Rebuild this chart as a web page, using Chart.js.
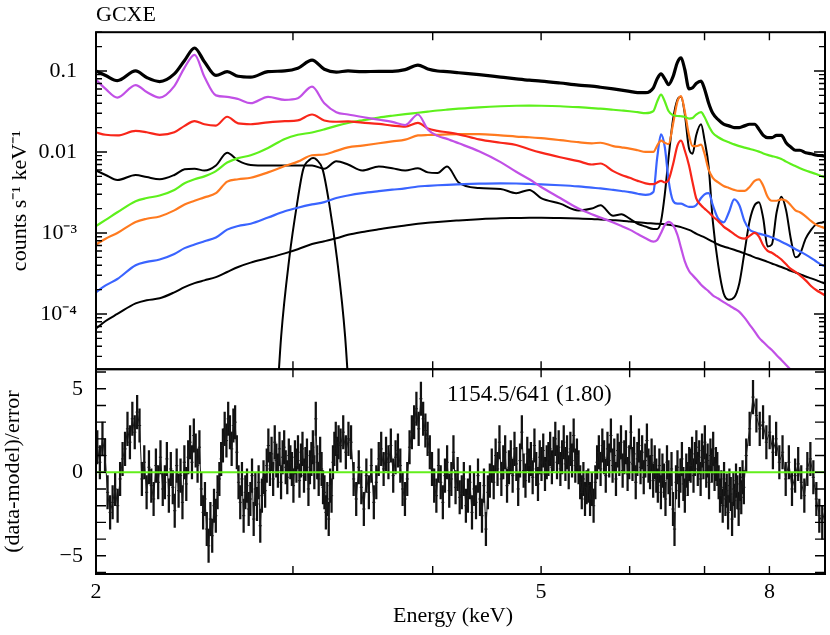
<!DOCTYPE html>
<html>
<head>
<meta charset="utf-8">
<script src="https://cdn.jsdelivr.net/npm/chart.js@4.4.1/dist/chart.umd.min.js"></script>
<style>
html,body{margin:0;padding:0;background:#fff;}
#wrap{width:830px;height:635px;position:relative;}
</style>
</head>
<body>
<div id="wrap"><canvas id="c" width="830" height="635"></canvas></div>
<script>
// ---------------- DATA ----------------
const panelTitle = 'GCXE';
const fitStatText = '1154.5/641 (1.80)';
const xTitle = 'Energy (keV)';
const yTitleTop = 'counts s\u207B\u00B9 keV\u207B\u00B9';
const yTitleRes = '(data-model)/error';

const xLabelValues = [2, 5, 8];
const xTickValues = [3, 4, 5, 6, 7, 8];
const yTickValues = [1e-4, 1e-3, 1e-2, 1e-1];
const yTickLabels = ['10\u207B\u2074', '10\u207B\u00B3', '0.01', '0.1'];
const resTickValues = [-5, 0, 5];
const resTickLabels = ['\u22125', '0', '5'];

// model energy grid (keV)
const modelE = [2.00,2.04,2.09,2.17,2.22,2.28,2.35,2.40,2.45,2.50,
 2.56,2.62,2.68,2.75,2.85,2.95,3.03,3.12,3.20,3.28,
 3.36,3.46,3.58,3.68,3.78,3.88,3.96,4.04,4.12,4.22,
 4.40,4.60,4.75,4.88,5.00,5.20,5.40,5.55,5.65,5.80,
 5.90,6.00,6.10,6.20,6.30,6.35,6.40,6.45,6.50,6.56,
 6.62,6.67,6.72,6.78,6.83,6.88,6.95,7.00,7.06,7.12,
 7.20,7.28,7.36,7.44,7.52,7.60,7.68,7.76,7.83,7.90,
 7.97,8.04,8.12,8.20,8.28,8.36,8.44,8.52,8.62,8.72,
 8.82,8.92,9.00];

const dataCounts = [0.100,0.088,0.076,0.100,0.083,0.074,0.092,0.135,0.192,0.130,
 0.088,0.098,0.086,0.084,0.098,0.100,0.108,0.136,0.105,0.097,
 0.100,0.098,0.099,0.099,0.104,0.118,0.106,0.100,0.098,0.095,
 0.090,0.084,0.080,0.077,0.075,0.071,0.067,0.065,0.063,0.060,
 0.058,0.056,0.054,0.054,0.062,0.080,0.092,0.080,0.068,0.085,
 0.128,0.145,0.105,0.060,0.062,0.070,0.075,0.060,0.040,0.030,
 0.025,0.022,0.021,0.020,0.020,0.021,0.022,0.022,0.019,0.016,
 0.015,0.015,0.016,0.016,0.013,0.0115,0.0105,0.0105,0.0098,0.0095,
 0.0091,0.0090,0.0088];

const lowTempModel = [0.078,0.060,0.047,0.067,0.055,0.047,0.065,0.110,0.158,0.085,
 0.050,0.048,0.045,0.040,0.048,0.044,0.046,0.064,0.040,0.031,
 0.029,0.027,0.025,0.0235,0.0215,0.029,0.019,0.0158,0.0145,0.0128,
 0.0102,0.0075,0.0057,0.0046,0.0037,0.0027,0.0020,0.0017,0.00155,0.00135,
 0.00122,0.00110,0.00097,0.00086,0.00078,0.00082,0.00100,0.00125,0.00137,0.00125,
 0.00095,0.00065,0.00045,0.00034,0.00030,0.00027,0.00023,0.00021,0.00019,0.00017,
 0.000155,0.000140,0.000128,0.000117,0.000106,0.000090,0.000074,0.000061,0.000051,0.000045,
 0.000040,0.000036,0.000031,0.000027,0.0000235,0.0000205,0.000018,0.000016,0.000014,0.0000122,
 0.0000108,0.0000095,0.0000085];

const redModel = [0.0174,0.0163,0.0160,0.0182,0.0175,0.0163,0.0175,0.0210,0.0240,0.0220,
 0.0212,0.0272,0.0225,0.0220,0.0232,0.0240,0.0245,0.0290,0.0245,0.0236,
 0.0238,0.0230,0.0222,0.0212,0.0206,0.0228,0.0195,0.0182,0.0175,0.0165,
 0.0143,0.0130,0.0122,0.0108,0.0098,0.0086,0.0077,0.0070,0.0072,0.0058,
 0.0052,0.0048,0.0044,0.0041,0.0040,0.0042,0.0044,0.0042,0.0045,0.0070,
 0.0120,0.0138,0.0105,0.0068,0.0042,0.0027,0.0022,0.0020,0.0018,0.0016,
 0.0014,0.0012,0.00108,0.00097,0.00088,0.00085,0.00092,0.00100,0.00090,0.00070,
 0.00060,0.00057,0.00052,0.00047,0.00041,0.00036,0.00033,0.00030,0.00026,0.00022,
 0.000195,0.000178,0.000165];

const greenModel = [0.00122,0.00145,0.00180,0.00247,0.00270,0.00290,0.00340,0.00410,0.00460,0.00500,
 0.00580,0.00740,0.00840,0.00910,0.01120,0.01450,0.01630,0.01740,0.01900,0.02100,
 0.02280,0.02460,0.02660,0.02800,0.02930,0.03050,0.03150,0.03250,0.03330,0.03420,
 0.03560,0.03670,0.03720,0.03730,0.03720,0.03670,0.03570,0.03480,0.03430,0.03320,
 0.03250,0.03180,0.03100,0.03020,0.03200,0.04200,0.05100,0.04200,0.03200,0.02850,
 0.02780,0.02760,0.02720,0.02580,0.02620,0.02900,0.03100,0.02700,0.02100,0.01720,
 0.01520,0.01400,0.01320,0.01240,0.01180,0.01130,0.01090,0.01050,0.01010,0.00960,
 0.00920,0.00890,0.00860,0.00820,0.00760,0.00710,0.00670,0.00630,0.00590,0.00560,
 0.00530,0.00500,0.00480];

const orangeModel = [0.00072,0.00085,0.00100,0.00137,0.00150,0.00160,0.00190,0.00225,0.00250,0.00275,
 0.00310,0.00430,0.00460,0.00480,0.00560,0.00670,0.00760,0.00910,0.00930,0.01030,
 0.01140,0.01200,0.01280,0.01350,0.01420,0.01600,0.01620,0.01630,0.01650,0.01660,
 0.01660,0.01600,0.01550,0.01520,0.01480,0.01400,0.01320,0.01280,0.01300,0.01180,
 0.01140,0.01100,0.01050,0.01000,0.01000,0.01200,0.01380,0.01300,0.01250,0.02200,
 0.04200,0.04900,0.03200,0.01600,0.01180,0.01180,0.01230,0.00950,0.00600,0.00480,
 0.00420,0.00380,0.00360,0.00340,0.00330,0.00330,0.00370,0.00440,0.00460,0.00380,
 0.00280,0.00250,0.00250,0.00260,0.00250,0.00220,0.00190,0.00180,0.00160,0.00140,
 0.00125,0.00118,0.00112];

const blueModel = [0.000185,0.000225,0.000270,0.000400,0.000440,0.000470,0.000550,0.000650,0.000720,0.000790,
 0.000880,0.001100,0.001220,0.001300,0.001550,0.001850,0.002050,0.002250,0.002400,0.002700,
 0.002900,0.003100,0.003280,0.003420,0.003550,0.003750,0.003820,0.003880,0.003930,0.003980,
 0.004060,0.004100,0.004080,0.004030,0.003980,0.003880,0.003750,0.003620,0.003550,0.003400,
 0.003300,0.003200,0.003050,0.002950,0.003200,0.008500,0.016500,0.011500,0.004500,0.002500,
 0.002300,0.002300,0.002200,0.002100,0.002100,0.002200,0.002700,0.003000,0.003100,0.002200,
 0.001500,0.001350,0.001800,0.002600,0.002200,0.001400,0.001100,0.001020,0.000980,0.000950,
 0.000920,0.000880,0.000830,0.000780,0.000730,0.000680,0.000630,0.000590,0.000540,0.000490,
 0.000440,0.000400,0.000380];

const lineModel = [0.0059,0.0052,0.0045,0.0052,0.0049,0.0046,0.0052,0.0061,0.0062,0.0059,
 0.0068,0.0098,0.0078,0.0069,0.0068,0.0068,0.0068,0.0068,0.0062,0.0077,
 0.0070,0.0059,0.0066,0.0063,0.0059,0.0063,0.0056,0.0055,0.0066,0.0042,
 0.0036,0.0035,0.0031,0.0034,0.0027,0.0023,0.0019,0.0020,0.0022,0.00163,
 0.00170,0.00150,0.00130,0.00120,0.00112,0.00112,0.00140,0.0030,0.0085,0.0250,
 0.0440,0.0480,0.0300,0.0110,0.0095,0.0160,0.0220,0.0140,0.0065,0.0014,
 0.00040,0.00018,0.00015,0.00016,0.00024,0.00058,0.00140,0.00220,0.00240,0.00150,
 0.00068,0.00072,0.00180,0.00280,0.00190,0.00085,0.00050,0.00055,0.00085,0.00110,
 0.00130,0.00135,0.00140];

const contModel = [6.6e-5,8.2e-5,1.0e-4,1.35e-4,1.48e-4,1.56e-4,1.85e-4,2.15e-4,2.4e-4,2.6e-4,
 2.85e-4,3.3e-4,3.8e-4,4.3e-4,4.9e-4,5.6e-4,6.3e-4,7.3e-4,7.9e-4,8.6e-4,
 9.5e-4,1.03e-3,1.11e-3,1.18e-3,1.24e-3,1.30e-3,1.34e-3,1.37e-3,1.40e-3,1.43e-3,
 1.48e-3,1.52e-3,1.53e-3,1.54e-3,1.54e-3,1.53e-3,1.51e-3,1.49e-3,1.47e-3,1.44e-3,
 1.42e-3,1.39e-3,1.36e-3,1.33e-3,1.31e-3,1.30e-3,1.29e-3,1.28e-3,1.26e-3,1.24e-3,
 1.21e-3,1.18e-3,1.14e-3,1.09e-3,1.04e-3,9.8e-4,9.2e-4,8.8e-4,8.3e-4,7.8e-4,
 7.2e-4,6.8e-4,6.5e-4,6.2e-4,5.9e-4,5.6e-4,5.3e-4,5.0e-4,4.8e-4,4.6e-4,
 4.4e-4,4.2e-4,4.0e-4,3.8e-4,3.6e-4,3.4e-4,3.25e-4,3.1e-4,2.9e-4,2.75e-4,
 2.6e-4,2.45e-4,2.35e-4];

// narrow gaussian line near 3.12 keV
const gaussE = [2.894,2.928,2.977,3.026,3.064,3.105,3.127,3.150,3.189,3.232,3.285,3.340,3.380];
const gaussV = [4.0e-6,5.3e-5,4.8e-4,2.33e-3,6.1e-3,8.0e-3,8.4e-3,8.0e-3,6.1e-3,2.33e-3,4.8e-4,5.3e-5,4.0e-6];

// residuals: bin ranges (keV) and residual values, bins evenly spread in each range
const resRanges = [[2.00,2.30],[2.30,3.30],[3.30,5.50],[5.50,7.60],[7.60,9.00]];
const res1 = [1.5,0.6,2.0,1.0,-1.2,-2.4,-1.8,-1.0,-2.0,-0.4,0.8,1.4,2.6,1.8,3.2,2.4,3.6,2.8,-0.4,0.6,-1.2,0.3,-0.8,-1.6,0.4,-0.6,0.9,-1.0];
const res2 = [-0.6,0.8,-1.4,0.2,-0.9,-2.3,0.4,-1.1,-0.2,-1.8,0.6,-0.7,
 0.9,1.8,0.6,2.2,1.3,0.4,1.5,
 -1.0,-2.4,-1.6,-3.4,-4.4,-2.8,-3.8,-2.0,-2.6,-1.2,-0.4,
 0.8,1.6,2.6,1.9,3.2,2.4,1.4,2.8,3.0,1.2,
 -0.6,-1.8,-0.4,-2.6,-1.2,-0.8,-2.2,-1.6,-0.2,-2.8,-1.0,-1.9,-0.6,-3.2,-1.4,-0.3,-1.1,
 0.4,1.6,0.2,1.1,-0.4,1.8,0.7,0.1,1.4,-0.6,0.9,1.5,0.3,-0.3,1.0,0.6,
 0.2,-0.8,0.9,0.4,1.2,-0.5,0.7,1.4,-0.2,0.5,1.0,-1.0,0.3,0.8,1.5,0.0,3.2,0.6,-0.4,1.1,0.2,-0.9,
 -1.2,-2.4,-1.6,-2.8,-0.8,-1.4,
 0.6,1.4,2.0,1.1,1.8];
const res3 = [1.6,2.4,1.2,2.0,1.8,
 -0.4,-1.6,0.3,-0.9,-2.2,-0.2,-1.2,0.4,-1.8,-0.6,
 0.8,1.4,0.2,1.1,0.6,1.6,-0.2,0.9,1.3,0.4,
 -1.0,-1.6,-0.4,
 1.5,2.4,3.0,3.8,2.6,4.4,3.2,2.5,2.0,1.2,
 0.2,-0.8,-1.4,0.4,-0.6,-1.8,-0.2,0.6,-1.1,-0.4,1.2,-0.9,-0.1,-1.5,
 -1.2,-0.4,-2.0,-1.4,-0.6,-2.4,-1.0,-1.8,-0.2,-1.6,-2.6,-0.8,-3.4,-1.2,-0.5,
 0.4,-0.6,1.0,0.2,1.8,-0.4,0.6,1.2,-0.8,0.3,0.9,-0.2,1.4,0.5,-1.0,0.7,2.4,0.1,-0.5,1.1,0.4,0.8,-0.3,1.6,0.2,-0.7,0.9,0.5,1.3,-0.1,0.6,
 0.8,1.4,0.3,1.1,2.0,0.6,1.5,0.2,0.9,1.8,0.5,1.2,0.0,1.4,0.7,2.2,0.4,1.0,0.3,-0.6,-1.2,-0.4,-1.6,-0.9];
const res4 = [-0.8,-1.6,-1.0,-2.0,-0.6,
 0.6,1.2,0.2,1.6,0.9,-0.2,1.4,0.7,2.2,0.4,1.0,-0.4,1.3,0.8,1.8,0.1,0.9,1.5,-0.1,0.6,2.4,0.5,1.1,-0.6,0.8,1.6,0.3,1.2,-0.3,0.7,1.9,0.4,0.0,1.0,-0.5,0.6,
 -0.2,-0.8,0.4,-1.2,0.1,-0.5,-1.6,0.6,-0.3,-1.0,0.2,-2.2,-3.4,-0.6,0.3,-1.1,-0.2,0.8,-0.7,-1.4,0.1,-0.4,0.5,
 0.4,1.1,-0.2,0.8,1.5,0.2,0.9,-0.4,1.3,0.6,1.8,0.1,0.7,-0.6,1.0,0.4,1.4,-0.1,0.5,0.2,
 -0.6,-1.4,-0.9,-2.0,-0.4,-1.6,-1.1,-2.4,-0.8,-1.3,-2.8,-1.0,-1.7,-0.5,-1.2,-2.2,-0.7,-1.5,-0.3,-0.9];
const res5 = [1.0,2.6,4.5,3.4,2.6,3.0,1.8,2.4,1.2,2.0,0.6,1.2,-0.4,0.6,-1.0,-0.2,0.5,-0.6,-1.4,0.2,0.8,-0.3,-1.6,-2.6,-3.0,-2.2];
const resValues = [res1, res2, res3, res4, res5];

// ---------------- STYLE ----------------
const FONT = "'Liberation Serif', 'Times New Roman', Times, serif";
Chart.defaults.font.family = FONT;
Chart.defaults.font.size = 22;
Chart.defaults.color = '#000';

const C = {
  data: '#000000', magenta: '#c150e6', red: '#f8261a', green: '#5ef01c',
  orange: '#ff7a1f', blue: '#3a64ff', black: '#000000', zero: '#62ef1b'
};

function lineDS(label, xs, ys, color, width) {
  const n = Math.min(xs.length, ys.length);
  const pts = [];
  for (let i = 0; i < n; i++) pts.push({x: xs[i], y: ys[i]});
  return {type: 'line', label, data: pts, borderColor: color, backgroundColor: color,
    borderWidth: width, pointRadius: 0, fill: false, cubicInterpolationMode: 'monotone', yAxisID: 'y'};
}

const resPts = [];
resRanges.forEach((r, s) => {
  const vals = resValues[s];
  const w = (r[1] - r[0]) / vals.length;
  vals.forEach((v, i) => resPts.push({x: r[0] + (i + 0.5) * w, y: v}));
});

const datasets = [
  {type: 'line', label: 'zero', data: [{x: 2, y: 0}, {x: 9, y: 0}], borderColor: C.zero,
   borderWidth: 2.2, pointRadius: 0, yAxisID: 'yr'},
  {type: 'line', label: 'residual', data: resPts, showLine: true, pointStyle: 'line',
   pointRadius: 1.6, borderColor: '#1a1a1a', borderWidth: 1, tension: 0, yAxisID: 'yr'},
  {type: 'bar', label: 'error', data: resPts.map(p => ({x: p.x, y: [p.y - 1, p.y + 1]})),
   backgroundColor: '#111', borderWidth: 0, barThickness: 1.6, yAxisID: 'yr'},
  lineDS('data', modelE, dataCounts, C.data, 3.2),
  lineDS('low-kT', modelE, lowTempModel, C.magenta, 2.2),
  lineDS('mid-kT', modelE, redModel, C.red, 2.2),
  lineDS('high-kT', modelE, greenModel, C.green, 2.2),
  lineDS('orange', modelE, orangeModel, C.orange, 2.2),
  lineDS('blue', modelE, blueModel, C.blue, 2.2),
  lineDS('lines', modelE, lineModel, C.black, 2),
  lineDS('continuum', modelE, contModel, C.black, 2),
  lineDS('gauss', gaussE, gaussV, C.black, 2)
];

const framePlugin = {
  id: 'framePlugin',
  beforeDatasetDraw(chart, args) {
    const ys = chart.scales[args.meta.yAxisID];
    const a = chart.chartArea;
    const ctx = chart.ctx;
    ctx.save();
    ctx.beginPath();
    ctx.rect(a.left, ys.top, a.right - a.left, ys.bottom - ys.top);
    ctx.clip();
  },
  afterDatasetDraw(chart) { chart.ctx.restore(); },
  afterDraw(chart) {
    const ctx = chart.ctx, a = chart.chartArea;
    const x = chart.scales.x, y = chart.scales.y, yr = chart.scales.yr;
    ctx.save();
    ctx.strokeStyle = '#000';
    ctx.lineWidth = 1.4;
    ctx.beginPath();
    const vt = (px, top, bot, len) => {
      ctx.moveTo(px, top); ctx.lineTo(px, top + len);
      ctx.moveTo(px, bot); ctx.lineTo(px, bot - len);
    };
    const ht = (py, len) => {
      ctx.moveTo(a.left, py); ctx.lineTo(a.left + len, py);
      ctx.moveTo(a.right, py); ctx.lineTo(a.right - len, py);
    };
    xTickValues.forEach(e => {
      const px = x.getPixelForValue(e);
      vt(px, y.top, y.bottom, 8);
      vt(px, yr.top, yr.bottom, 8);
    });
    [1e-5, 1e-4, 1e-3, 1e-2, 1e-1].forEach(d => {
      for (let m = 1; m <= 9; m++) {
        const v = m * d;
        if (v < y.min || v > y.max) continue;
        ht(y.getPixelForValue(v), m === 1 ? 11 : 6);
      }
    });
    for (let v = -6; v <= 6; v++) {
      if (v < yr.min || v > yr.max) continue;
      ht(yr.getPixelForValue(v), 10);
    }
    ctx.stroke();
    ctx.lineWidth = 2;
    ctx.strokeRect(a.left, y.top, a.right - a.left, y.bottom - y.top);
    ctx.strokeRect(a.left, yr.top, a.right - a.left, yr.bottom - yr.top);
    ctx.fillStyle = '#000';
    ctx.textBaseline = 'alphabetic';
    ctx.textAlign = 'left';
    ctx.font = '22px ' + FONT;
    ctx.fillText(panelTitle, a.left, 20.5);
    ctx.font = '23px ' + FONT;
    ctx.fillText(fitStatText, a.left + 351, yr.top + 32);
    ctx.textAlign = 'center';
    ctx.font = '22px ' + FONT;
    ctx.fillText(xTitle, 453, 622);
    ctx.restore();
  }
};

new Chart(document.getElementById('c'), {
  type: 'line',
  data: {datasets},
  plugins: [framePlugin],
  options: {
    responsive: false,
    animation: false,
    events: [],
    layout: {padding: {left: 0, right: 2, top: 29, bottom: 0}},
    plugins: {legend: {display: false}, tooltip: {enabled: false}, title: {display: false}},
    scales: {
      yr: {
        type: 'linear', position: 'left', stack: 'panels', stackWeight: 206, weight: 1,
        min: -6.09, max: 6.17,
        grid: {display: false, drawTicks: false}, border: {display: false},
        afterBuildTicks: s => { s.ticks = resTickValues.map(v => ({value: v})); },
        afterFit: s => { s.width = 96; },
        ticks: {callback: (v, i) => resTickLabels[i], padding: 13, autoSkip: false, maxRotation: 0},
        title: {display: true, text: yTitleRes, padding: {top: 0, bottom: 0}}
      },
      y: {
        type: 'logarithmic', position: 'left', stack: 'panels', stackWeight: 339, weight: 2,
        min: 2.08e-5, max: 0.301,
        grid: {display: false, drawTicks: false}, border: {display: false},
        afterBuildTicks: s => { s.ticks = yTickValues.map(v => ({value: v})); },
        afterFit: s => { s.width = 96; },
        ticks: {callback: (v, i) => yTickLabels[i], padding: 19, autoSkip: false, maxRotation: 0},
        title: {display: true, text: yTitleTop, padding: {top: 7, bottom: 0}}
      },
      x: {
        type: 'logarithmic', position: 'bottom', min: 2, max: 8.97,
        grid: {display: false, drawTicks: false}, border: {display: false},
        afterBuildTicks: s => { s.ticks = xLabelValues.map(v => ({value: v})); },
        afterFit: s => { s.height = 61; },
        ticks: {callback: v => String(v), padding: 5, autoSkip: false, maxRotation: 0}
      }
    }
  }
});
</script>
</body>
</html>
